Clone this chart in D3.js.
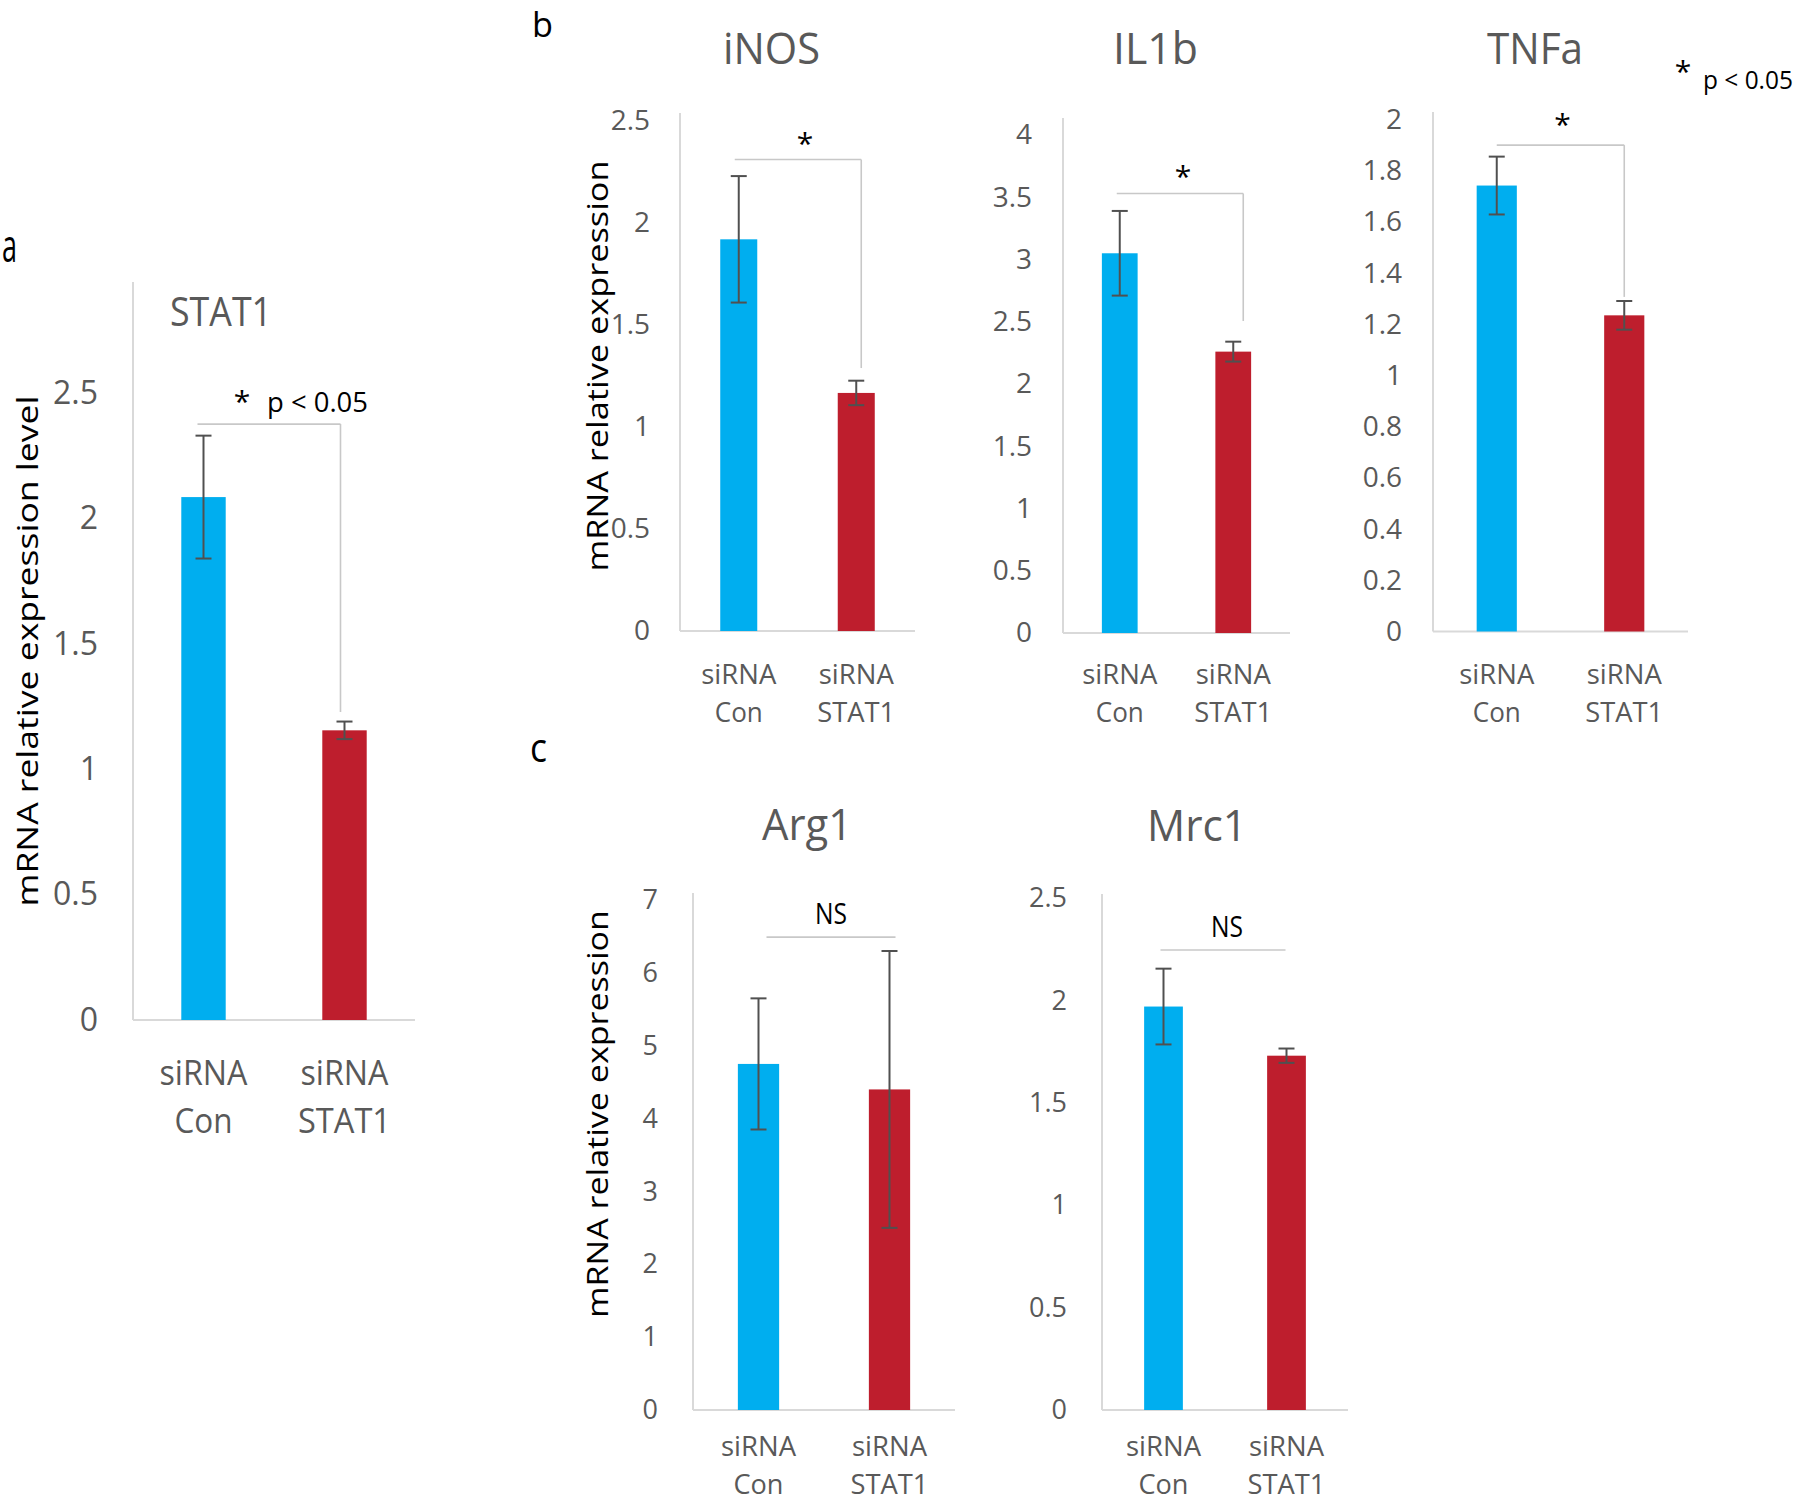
<!DOCTYPE html>
<html><head><meta charset="utf-8">
<script src="https://cdn.jsdelivr.net/npm/d3@7"></script>
<style>body{margin:0;background:#fff} svg{display:block}</style>
</head><body>
<svg id="c" width="1800" height="1502"></svg>
<script>
// ---------------- data ----------------
const categories = ["siRNA Con", "siRNA STAT1"];
const genes = ["STAT1", "iNOS", "IL1b", "TNFa", "Arg1", "Mrc1"];
const stat1Mean = [2.085, 1.155], stat1Err = [0.245, 0.035];
const inosMean  = [1.92, 1.167],  inosErr  = [0.31, 0.06];
const il1bMean  = [3.05, 2.26],   il1bErr  = [0.34, 0.08];
const tnfaMean  = [1.742, 1.235], tnfaErr  = [0.113, 0.056];
const arg1Mean  = [4.75, 4.40],   arg1Err  = [0.90, 1.90];
const mrc1Mean  = [1.97, 1.73],   mrc1Err  = [0.185, 0.035];
const ticksStat1 = [0, 0.5, 1, 1.5, 2, 2.5];
const ticksInos  = [0, 0.5, 1, 1.5, 2, 2.5];
const ticksIl1b  = [0, 0.5, 1, 1.5, 2, 2.5, 3, 3.5, 4];
const ticksTnfa  = [0, 0.2, 0.4, 0.6, 0.8, 1, 1.2, 1.4, 1.6, 1.8, 2];
const ticksArg1  = [0, 1, 2, 3, 4, 5, 6, 7];
const ticksMrc1  = [0, 0.5, 1, 1.5, 2, 2.5];
const sigLabels = ["*", "*", "*", "*", "NS", "NS"];
const sigLevels = [2.376, 2.311, 3.53, 1.90, 6.49, 2.246];   // bracket heights (data units)
const sigDrops  = [1.228, 1.289, 2.506, 1.307, null, null];  // bracket right leg end (data units)
const pText = "p < 0.05";
const yTitles = ["mRNA relative expression level", "mRNA relative expression", "mRNA relative expression"];

// ---------------- layout ----------------
const FONT = "'Open Sans', 'DejaVu Sans', sans-serif";
const GRAY = "#595959";
const panels = [
  {mean: stat1Mean, err: stat1Err, ticks: ticksStat1, topVal: 2.5,
   x0:133, x1:415, base:1020, topPx:393, axisTop:282, tickFs:32, tickPad:35,
   title:{x:170, y:326, w:102, fs:41},
   xl:{fs:35, y1:1085, y2:1133, w:[[88,58],[88,93]]},
   br:{dx:[-6,-4], off:12, starDx:-27}},
  {mean: inosMean, err: inosErr, ticks: ticksInos, topVal: 2.5,
   x0:680, x1:915, base:631, topPx:121, axisTop:113, tickFs:28, tickPad:30,
   title:{x:723, y:64, w:97, fs:43},
   xl:{fs:28, y1:684, y2:722, w:[[75,48],[75,78]]},
   br:{dx:[-4,5], off:5.5, starDx:7}},
  {mean: il1bMean, err: il1bErr, ticks: ticksIl1b, topVal: 4,
   x0:1063, x1:1290, base:633, topPx:135, axisTop:118, tickFs:28, tickPad:31,
   title:{x:1113, y:64, w:85, fs:43},
   xl:{fs:28, y1:684, y2:722, w:[[75,48],[75,78]]},
   br:{dx:[-3,10], off:6.5, starDx:3}},
  {mean: tnfaMean, err: tnfaErr, ticks: ticksTnfa, topVal: 2,
   x0:1433, x1:1688, base:631.5, topPx:119.5, axisTop:112, tickFs:28, tickPad:31,
   title:{x:1487, y:64, w:96, fs:43},
   xl:{fs:28, y1:684, y2:722, w:[[75,48],[75,78]]},
   br:{dx:[0,0], off:10, starDx:2}},
  {mean: arg1Mean, err: arg1Err, ticks: ticksArg1, topVal: 7,
   x0:693, x1:955, base:1410, topPx:900, axisTop:893, tickFs:27, tickPad:35,
   title:{x:762, y:840, w:90, fs:44},
   xl:{fs:28, y1:1456, y2:1494, w:[[75,50],[75,78]]},
   br:{dx:[8,6], off:13, starDx:0}},
  {mean: mrc1Mean, err: mrc1Err, ticks: ticksMrc1, topVal: 2.5,
   x0:1102, x1:1348, base:1410, topPx:898, axisTop:894, tickFs:27, tickPad:35,
   title:{x:1147, y:841, w:100, fs:44},
   xl:{fs:28, y1:1456, y2:1494, w:[[75,50],[75,78]]},
   br:{dx:[-3,-1], off:13, starDx:4}}
];

const svg = d3.select("#c");

function T(g, str, x, y, o) {
  const t = g.append("text").attr("x", x).attr("y", y).text(str)
    .attr("font-family", FONT).attr("font-size", o.fs)
    .attr("fill", o.fill || GRAY).attr("text-anchor", o.anchor || "middle");
  if (o.w) t.attr("textLength", o.w).attr("lengthAdjust", "spacingAndGlyphs");
  if (o.rot) t.attr("transform", `rotate(-90 ${x} ${y})`);
  return t;
}

const fmt = d => String(+d.toFixed(1));

panels.forEach((p, i) => {
  const g = svg.append("g");
  const x = d3.scaleBand().domain(categories).range([p.x0, p.x1]).padding(0);
  const y = d3.scaleLinear().domain([0, p.topVal]).range([p.base, p.topPx]);
  const bw = x.bandwidth() * 0.315;
  const cx = c => x(c) + x.bandwidth() / 2;

  // axis lines
  g.append("line").attr("x1", p.x0).attr("x2", p.x0).attr("y1", p.base).attr("y2", p.axisTop)
    .attr("stroke", "#d9d9d9").attr("stroke-width", 2);
  g.append("line").attr("x1", p.x0).attr("x2", p.x1).attr("y1", p.base).attr("y2", p.base)
    .attr("stroke", "#d9d9d9").attr("stroke-width", 2);

  // y tick labels
  const ax = g.append("g").attr("transform", `translate(${p.x0},0)`)
    .call(d3.axisLeft(y).tickValues(p.ticks).tickSize(0).tickPadding(p.tickPad).tickFormat(fmt));
  ax.select(".domain").remove();
  ax.selectAll("text").attr("font-family", FONT).attr("font-size", p.tickFs).attr("fill", GRAY);

  // bars
  const colors = ["#00AEEF", "#BE1E2D"];
  g.selectAll("rect.bar").data(categories).enter().append("rect")
    .attr("x", c => cx(c) - bw / 2).attr("width", bw)
    .attr("y", (c, k) => y(p.mean[k])).attr("height", (c, k) => p.base - y(p.mean[k]))
    .attr("fill", (c, k) => colors[k]);

  // error bars
  categories.forEach((c, k) => {
    const xc = cx(c), hi = y(p.mean[k] + p.err[k]), lo = y(p.mean[k] - p.err[k]);
    const cap = 8;
    g.append("line").attr("x1", xc).attr("x2", xc).attr("y1", hi).attr("y2", lo)
      .attr("stroke", "#505050").attr("stroke-width", 2);
    [hi, lo].forEach(yy => g.append("line").attr("x1", xc - cap).attr("x2", xc + cap)
      .attr("y1", yy).attr("y2", yy).attr("stroke", "#505050").attr("stroke-width", 2));
  });

  // significance bracket
  const bx0 = cx(categories[0]) + p.br.dx[0], bx1 = cx(categories[1]) + p.br.dx[1];
  const by = y(sigLevels[i]);
  g.append("line").attr("x1", bx0).attr("x2", bx1).attr("y1", by).attr("y2", by)
    .attr("stroke", "#c8c8c8").attr("stroke-width", 1.6);
  if (sigDrops[i] !== null) {
    g.append("line").attr("x1", bx1).attr("x2", bx1).attr("y1", by).attr("y2", y(sigDrops[i]))
      .attr("stroke", "#c8c8c8").attr("stroke-width", 1.6);
  }
  const mid = (bx0 + bx1) / 2 + p.br.starDx;
  if (sigLabels[i] === "*") {
    T(g, "*", mid, by - p.br.off, {fs: 30, fill: "#000"});
  } else {
    T(g, sigLabels[i], mid, by - p.br.off, {fs: 29, fill: "#000", w: 32});
  }

  // title
  T(g, genes[i], p.title.x, p.title.y, {fs: p.title.fs, w: p.title.w, anchor: "start"});

  // x labels
  categories.forEach((c, k) => {
    const parts = c.split(" ");
    T(g, parts[0], cx(c), p.xl.y1, {fs: p.xl.fs, w: p.xl.w[k][0]});
    T(g, parts[1], cx(c), p.xl.y2, {fs: p.xl.fs, w: p.xl.w[k][1]});
  });
});

// p-value text in panel a
T(svg, pText, 267, 412, {fs: 28, fill: "#000", w: 101, anchor: "start"});
// legend top right
T(svg, "*", 1683, 82, {fs: 30, fill: "#000"});
T(svg, pText, 1703, 89, {fs: 25, fill: "#000", w: 90, anchor: "start"});

// y titles
T(svg, yTitles[0], 38, 651, {fs: 29, fill: "#000", w: 511, rot: true});
T(svg, yTitles[1], 608, 366, {fs: 29, fill: "#000", w: 411, rot: true});
T(svg, yTitles[2], 608, 1114, {fs: 29, fill: "#000", w: 408, rot: true});

// panel letters
T(svg, "a", 2, 262, {fs: 45, fill: "#000", w: 15, anchor: "start"});
T(svg, "b", 532, 37, {fs: 34, fill: "#000", w: 21, anchor: "start"});
T(svg, "c", 530, 762, {fs: 41, fill: "#000", w: 17, anchor: "start"});
</script>
</body></html>
